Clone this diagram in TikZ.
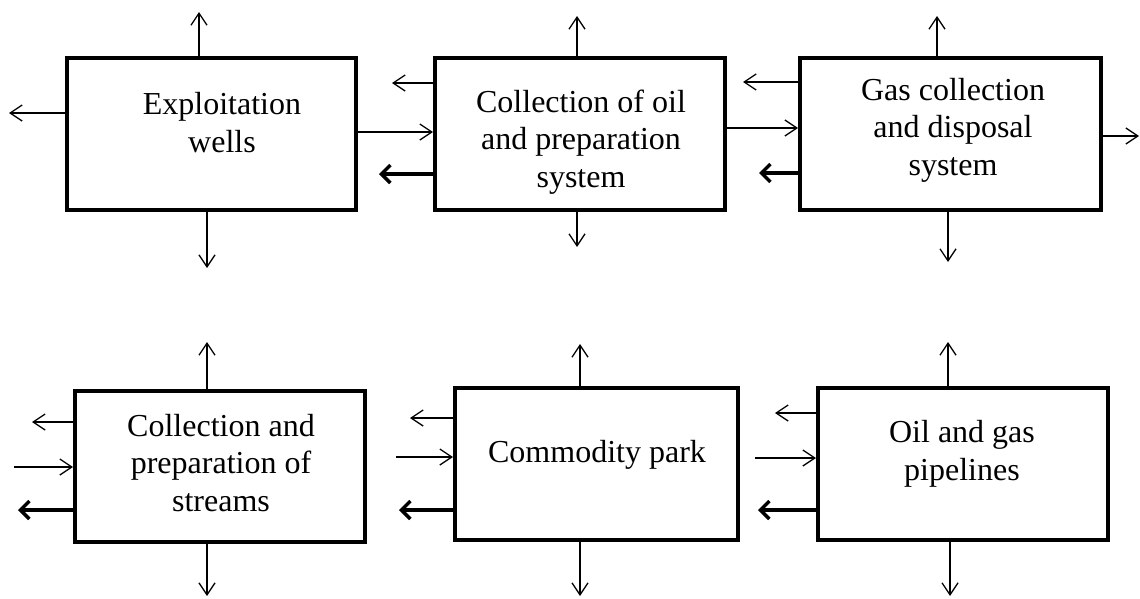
\documentclass[tikz,border=0pt]{standalone}
\usepackage{fontspec}
\setmainfont{Liberation Serif}
\usetikzlibrary{arrows.meta}
\begin{document}
\begin{tikzpicture}[x=1pt,y=-1pt,
  box/.style={draw, line width=4pt, rectangle, inner sep=0pt, minimum height=152pt},
  txt/.style={align=center, inner sep=0pt, font=\fontsize{32}{37.5}\selectfont},
  arr/.style={line width=1.3pt, -{Straight Barb[length=12pt,width=16pt]}},
  thk/.style={line width=3.5pt, -{Straight Barb[length=9pt,width=18pt]}}]
\useasboundingbox (0,0) rectangle (1140,598);
% boxes
\node[box, minimum width=289pt] (b1) at (211.5,134) {};
\node[box, minimum width=290pt] (b2) at (580,134) {};
\node[box, minimum width=301pt] (b3) at (950.5,134) {};
\node[box, minimum width=290pt, minimum height=151pt] (b4) at (220,466.5) {};
\node[box, minimum width=283pt] (b5) at (596.5,464) {};
\node[box, minimum width=290pt] (b6) at (963,464) {};
% texts
\node[txt] (t1) at (222,122.5) {Exploitation\\wells};
\node[txt] (t2) at (581,142) {Collection of oil\\and preparation\\system};
\node[txt] (t3) at (953,130) {Gas collection\\and disposal\\system};
\node[txt] (t4) at (221,463) {Collection and\\preparation of\\streams};
\node[txt] (t5) at (597,455) {Commodity park};
\node[txt] (t6) at (962,454) {Oil and gas\\pipelines};
% free ends
\coordinate (b1u) at (199,12);
\coordinate (b1l) at (9,113);
\coordinate (b1d) at (207,268);
\coordinate (r12) at (0,132);
\coordinate (b2u) at (577,16);
\coordinate (b2d) at (577,247);
\coordinate (b2l) at (392,83);
\coordinate (b2k) at (379,174);
\coordinate (r23) at (0,128);
\coordinate (b3u) at (937,16);
\coordinate (b3d) at (948,262);
\coordinate (b3r) at (1139,136);
\coordinate (b3l) at (743,82);
\coordinate (b3k) at (759,173);
\coordinate (b4u) at (207,342);
\coordinate (b4d) at (207,596);
\coordinate (b4l) at (32,422);
\coordinate (b4i) at (14,467);
\coordinate (b4k) at (18,510);
\coordinate (b5u) at (580,344);
\coordinate (b5d) at (580,596);
\coordinate (b5l) at (410,418);
\coordinate (b5i) at (396,457);
\coordinate (b5k) at (399,510);
\coordinate (b6u) at (948,342);
\coordinate (b6d) at (950,596);
\coordinate (b6l) at (775,413);
\coordinate (b6i) at (755,458);
\coordinate (b6k) at (758,510);
% box 1
\draw[arr] (b1.north -| b1u) -- (b1u);
\draw[arr] (b1.west |- b1l) -- (b1l);
\draw[arr] (b1.south -| b1d) -- (b1d);
\draw[arr] (b1.east |- r12) -- (b2.west |- r12);
% box 2
\draw[arr] (b2.north -| b2u) -- (b2u);
\draw[arr] (b2.south -| b2d) -- (b2d);
\draw[arr] (b2.west |- b2l) -- (b2l);
\draw[thk] (b2.west |- b2k) -- (b2k);
\draw[arr] (b2.east |- r23) -- (b3.west |- r23);
% box 3
\draw[arr] (b3.north -| b3u) -- (b3u);
\draw[arr] (b3.south -| b3d) -- (b3d);
\draw[arr] (b3.east |- b3r) -- (b3r);
\draw[arr] (b3.west |- b3l) -- (b3l);
\draw[thk] (b3.west |- b3k) -- (b3k);
% box 4
\draw[arr] (b4.north -| b4u) -- (b4u);
\draw[arr] (b4.south -| b4d) -- (b4d);
\draw[arr] (b4.west |- b4l) -- (b4l);
\draw[arr] (b4i) -- (b4.west |- b4i);
\draw[thk] (b4.west |- b4k) -- (b4k);
% box 5
\draw[arr] (b5.north -| b5u) -- (b5u);
\draw[arr] (b5.south -| b5d) -- (b5d);
\draw[arr] (b5.west |- b5l) -- (b5l);
\draw[arr] (b5i) -- (b5.west |- b5i);
\draw[thk] (b5.west |- b5k) -- (b5k);
% box 6
\draw[arr] (b6.north -| b6u) -- (b6u);
\draw[arr] (b6.south -| b6d) -- (b6d);
\draw[arr] (b6.west |- b6l) -- (b6l);
\draw[arr] (b6i) -- (b6.west |- b6i);
\draw[thk] (b6.west |- b6k) -- (b6k);
\end{tikzpicture}
\end{document}
